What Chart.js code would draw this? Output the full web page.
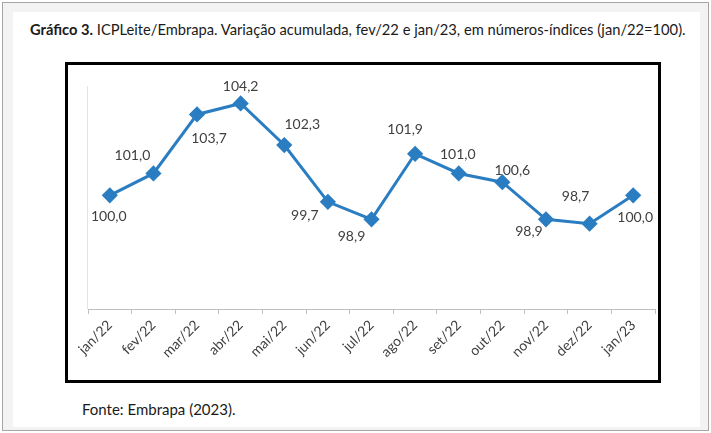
<!DOCTYPE html>
<html>
  <head>
    <script src="https://cdn.jsdelivr.net/npm/chart.js@4/dist/chart.umd.min.js"></script>
    <style>
      body { margin: 0; width: 711px; height: 433px; position: relative; font-family: Lato, sans-serif; background: #fff; }
      #frame { position: absolute; left: 2px; top: 2px; width: 705px; height: 427px; border: 1px solid #a6a6a6; background: #f3f3f3; }
      #page { position: absolute; left: 13px; top: 12px; width: 687px; height: 415px; background: #fff; }
      #title { position: absolute; left: 30px; top: 20px; font-size: 14.7px; color: #1a1a1a; white-space: nowrap; }
      #box { position: absolute; left: 65px; top: 62px; width: 590px; height: 315px; border: 3px solid #000; background: #fff; }
      #graph { position: absolute; left: 0; top: 0; }
      #fonte { position: absolute; left: 82px; top: 400px; font-size: 15px; color: #1a1a1a; }
    </style>
  </head>

  <body>
    <div id="frame"></div>
    <div id="page"></div>
    <div id="title"><b>Gráfico 3.</b> ICPLeite/Embrapa. Variação acumulada, fev/22 e jan/23, em números-índices (jan/22=100).</div>
    <div id="box">
      <canvas id="graph" width="596" height="315"></canvas>
    </div>
    <div id="fonte">Fonte: Embrapa (2023).</div>
    <script>
      const months = ['jan/22', 'fev/22', 'mar/22', 'abr/22', 'mai/22', 'jun/22', 'jul/22',
                      'ago/22', 'set/22', 'out/22', 'nov/22', 'dez/22', 'jan/23'];
      const index = [100.0, 101.0, 103.7, 104.2, 102.3, 99.7, 98.9, 101.9, 101.0, 100.6, 98.9, 98.7, 100.0];

      // where each value label sits relative to its point (dx, dy)
      const labelShift = [
        [-1, 21], [-21, -18], [12, 24], [0, -17], [18, -21], [-23, 14], [-20, 17],
        [-10, -24], [-1, -19], [10, -12], [-17, 12], [-14, -27], [2, 22],
      ];

      const valueLabels = {
        id: 'valueLabels',
        beforeDatasetsDraw(chart) {
          // faint left edge of the plot area
          const { ctx, chartArea } = chart;
          ctx.save();
          ctx.strokeStyle = '#e4e4e4';
          ctx.lineWidth = 1;
          ctx.beginPath();
          ctx.moveTo(chartArea.left - 0.5, chartArea.top);
          ctx.lineTo(chartArea.left - 0.5, chartArea.bottom);
          ctx.stroke();
          ctx.restore();
        },
        afterDatasetsDraw(chart) {
          const ctx = chart.ctx;
          const meta = chart.getDatasetMeta(0);
          ctx.save();
          ctx.font = '14px Lato';
          ctx.fillStyle = '#404040';
          ctx.textAlign = 'center';
          ctx.textBaseline = 'middle';
          meta.data.forEach((pt, i) => {
            const txt = index[i].toFixed(1).replace('.', ',');
            ctx.fillText(txt, pt.x + labelShift[i][0], pt.y + labelShift[i][1]);
          });
          ctx.restore();
        },
      };

      new Chart(document.getElementById('graph').getContext('2d'), {
        type: 'line',
        plugins: [valueLabels],
        data: {
          labels: months,
          datasets: [
            {
              data: index,
              borderColor: '#2b7dc1',
              backgroundColor: '#2b7dc1',
              borderWidth: 3,
              pointStyle: 'rectRot',
              pointRadius: 6,
              pointHoverRadius: 6,
              tension: 0,
            },
          ],
        },
        options: {
          responsive: false,
          animation: false,
          layout: {
            padding: { left: 20, right: 9, top: 21, bottom: 0 },
          },
          plugins: {
            legend: { display: false },
            tooltip: { enabled: false },
          },
          scales: {
            x: {
              offset: true,
              grid: {
                offset: true,
                drawOnChartArea: false,
                drawTicks: true,
                tickLength: 5,
                color: '#bfbfbf',
              },
              border: { color: '#bfbfbf', width: 1 },
              ticks: {
                minRotation: 45,
                maxRotation: 45,
                font: { family: 'Lato', size: 14 },
                color: '#404040',
                padding: 3,
              },
              afterFit(scale) {
                scale.height = 71;
                scale.paddingLeft = 0;
                scale.paddingRight = 0;
              },
            },
            y: {
              display: false,
              min: 94.8,
              max: 105,
            },
          },
        },
      });
    </script>
  </body>
</html>
